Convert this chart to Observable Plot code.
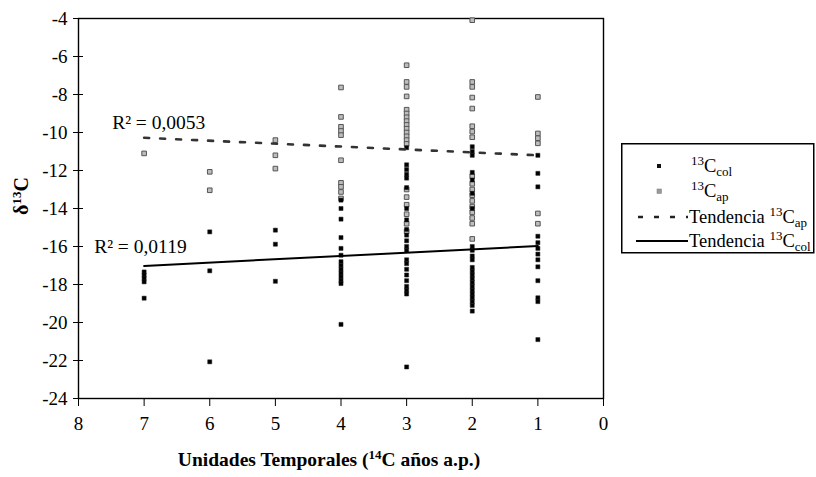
<!DOCTYPE html>
<html>
<head>
<meta charset="utf-8">
<script src="https://cdn.jsdelivr.net/npm/d3@7"></script>
<script src="https://cdn.jsdelivr.net/npm/@observablehq/plot@0.6"></script>
<style>
  html, body { margin: 0; padding: 0; background: #fff; }
  #wrap { position: relative; width: 816px; height: 477px; overflow: hidden; }
  #legend { position: absolute; left: 621px; top: 143px; }
  .serif, .serif text { font-family: "Liberation Serif", "DejaVu Serif", "Times New Roman", serif !important; }
</style>
</head>
<body>
<div id="wrap"></div>
<script>
// ---- data ----
const units = [7, 6, 5, 4, 3, 2, 1];
const ap13 = [
  [-11.1],
  [-12.07, -13.04],
  [-10.4, -11.2, -11.9],
  [-7.63, -9.18, -9.7, -9.92, -10.14, -11.46, -12.65, -12.86, -13.13, -13.47],
  [-6.46, -7.34, -7.6, -8.1, -8.8, -9.0, -9.2, -9.4, -9.6, -9.8, -10.0, -10.2, -10.4, -10.6, -13.0, -13.4, -13.8, -14.3, -14.8, -15.2],
  [-4.09, -7.34, -7.6, -8.16, -8.74, -9.67, -9.95, -10.25, -12.3, -12.7, -13.0, -13.3, -13.6, -13.9, -14.2, -14.5, -14.8, -15.6],
  [-8.13, -10.05, -10.3, -10.57, -14.26, -14.8]
];
const col13 = [
  [-17.34, -17.51, -17.68, -17.86, -18.72],
  [-15.23, -17.28, -22.07],
  [-15.14, -15.88, -17.83],
  [-13.56, -14.0, -14.56, -15.53, -16.1, -16.46, -16.8, -17.0, -17.2, -17.4, -17.6, -17.8, -17.95, -20.1],
  [-10.8, -11.7, -11.95, -12.2, -12.4, -12.9, -14.0, -14.6, -15.1, -15.4, -15.7, -16.0, -16.2, -16.7, -16.9, -17.2, -17.5, -17.8, -18.1, -18.3, -18.5, -22.34],
  [-10.75, -11.0, -11.2, -12.1, -12.5, -13.2, -14.0, -16.0, -16.2, -16.5, -16.7, -17.1, -17.3, -17.5, -17.7, -17.9, -18.1, -18.3, -18.5, -18.7, -18.9, -19.1, -19.4],
  [-11.2, -12.15, -12.86, -15.46, -15.8, -16.1, -16.4, -16.7, -17.07, -17.8, -18.7, -18.9, -20.9]
];
const trendApX = [7, 1];
const trendApY = [-10.28, -11.2];
const trendColX = [7, 1];
const trendColY = [-17.02, -15.98];
const r2Ap = "R² = 0,0053";
const r2Col = "R² = 0,0119";
const xTicks = [0, 1, 2, 3, 4, 5, 6, 7, 8];
const yTicks = [-24, -22, -20, -18, -16, -14, -12, -10, -8, -6, -4];

// ---- tables built from the arrays ----
const apPts = units.flatMap((u, i) => ap13[i].map(v => ({x: u, y: v})));
const colPts = units.flatMap((u, i) => col13[i].map(v => ({x: u, y: v})));
const trendAp = trendApX.map((x, i) => ({x, y: trendApY[i]}));
const trendCol = trendColX.map((x, i) => ({x, y: trendColY[i]}));

const font = "Liberation Serif, DejaVu Serif, serif";

const chart = Plot.plot({
  className: "serif",
  width: 816,
  height: 477,
  marginLeft: 78,
  marginRight: 213,
  marginTop: 18,
  marginBottom: 79,
  style: {fontFamily: font, fontSize: "19px", background: "#fff", color: "#000"},
  x: {domain: [8, 0], ticks: xTicks},
  y: {domain: [-24, -4], ticks: yTicks},
  marks: [
    Plot.frame({stroke: "#000", strokeWidth: 1.4}),
    Plot.axisX({ticks: xTicks, tickSize: 8, tickPadding: 10, fontSize: 19, label: null, tickFormat: d => String(d)}),
    Plot.axisY({ticks: yTicks, tickSize: 10, dx: 5, tickPadding: 6, fontSize: 19, label: null, tickFormat: d => String(d)}),
    Plot.dot(apPts, {x: "x", y: "y", symbol: "square", r: 2.6, fill: "#bdbdbd", stroke: "#555", strokeWidth: 1}),
    Plot.dot(colPts, {x: "x", y: "y", symbol: "square", r: 2.3, fill: "#000", stroke: "#222", strokeWidth: 0.5}),
    Plot.line(trendAp, {x: "x", y: "y", stroke: "#333", strokeWidth: 2.6, strokeDasharray: "5,11"}),
    Plot.line(trendCol, {x: "x", y: "y", stroke: "#000", strokeWidth: 2}),
    Plot.text([trendAp[0]], {x: "x", y: "y", text: () => r2Ap, textAnchor: "start", dx: -32, dy: -15, fontSize: 19.5}),
    Plot.text([trendCol[0]], {x: "x", y: "y", text: () => r2Col, textAnchor: "start", dx: -50, dy: -19, fontSize: 19.5})
  ]
});

document.getElementById("wrap").appendChild(chart);

// axis titles (with super/subscripts)
const svg = d3.select(chart);
const xl = svg.append("text")
  .attr("class", "serif")
  .attr("x", 329).attr("y", 466)
  .attr("text-anchor", "middle")
  .attr("font-family", font).attr("font-weight", "bold").attr("font-size", 19.5)
  .attr("fill", "#000");
xl.append("tspan").text("Unidades Temporales (");
xl.append("tspan").attr("font-size", 13).attr("dy", -7).text("14");
xl.append("tspan").attr("dy", 7).text("C años a.p.)");

const yl = svg.append("text")
  .attr("class", "serif")
  .attr("transform", "translate(28,196) rotate(-90)")
  .attr("text-anchor", "middle")
  .attr("font-family", font).attr("font-weight", "bold").attr("font-size", 20)
  .attr("fill", "#000");
yl.append("tspan").text("δ");
yl.append("tspan").attr("font-size", 13).attr("dy", -7).text("13");
yl.append("tspan").attr("dy", 7).text("C");

// legend
const legendItems = [
  {kind: "col", main: "", sub: "col"},
  {kind: "ap", main: "", sub: "ap"},
  {kind: "dash", main: "Tendencia ", sub: "ap"},
  {kind: "solid", main: "Tendencia ", sub: "col"}
];
const rowY = [23, 48, 74, 98];
const lg = d3.select("#wrap").append("svg")
  .attr("id", "legend").attr("class", "serif").attr("width", 194).attr("height", 111);
lg.append("rect").attr("x", 0.75).attr("y", 0.75).attr("width", 192).attr("height", 109)
  .attr("fill", "#fff").attr("stroke", "#000").attr("stroke-width", 1.5);
legendItems.forEach((it, i) => {
  const y = rowY[i];
  if (it.kind === "col") {
    lg.append("rect").attr("x", 36).attr("y", y - 2).attr("width", 4).attr("height", 4).attr("fill", "#111");
  } else if (it.kind === "ap") {
    lg.append("rect").attr("x", 36).attr("y", y - 2).attr("width", 4.5).attr("height", 4.5).attr("fill", "#999").attr("stroke", "#888").attr("stroke-width", 0.6);
  } else if (it.kind === "dash") {
    lg.append("line").attr("x1", 17).attr("x2", 67).attr("y1", y).attr("y2", y)
      .attr("stroke", "#222").attr("stroke-width", 2.6).attr("stroke-dasharray", "5,11");
  } else {
    lg.append("line").attr("x1", 15).attr("x2", 67).attr("y1", y).attr("y2", y)
      .attr("stroke", "#000").attr("stroke-width", 2.2);
  }
  const t = lg.append("text").attr("x", it.main ? 68 : 70).attr("y", y + 6)
    .attr("font-family", font).attr("font-size", 18.5).attr("fill", "#000");
  if (it.main) t.append("tspan").text(it.main);
  t.append("tspan").attr("font-size", 13).attr("dy", -7).text("13");
  t.append("tspan").attr("dy", 7).text("C");
  t.append("tspan").attr("font-size", 13).attr("dy", 4).text(it.sub);
});
</script>
</body>
</html>
